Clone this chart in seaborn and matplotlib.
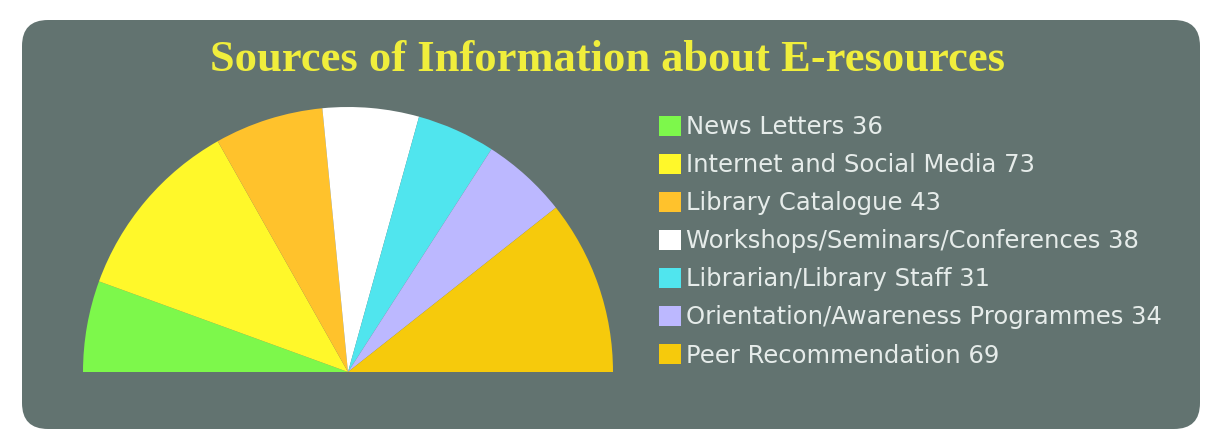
import matplotlib
matplotlib.use("Agg")
import matplotlib.pyplot as plt
import seaborn as sns
from matplotlib.patches import FancyBboxPatch, Patch

# data
sources = ["News Letters", "Internet and Social Media", "Library Catalogue",
           "Workshops/Seminars/Conferences", "Librarian/Library Staff",
           "Orientation/Awareness Programmes", "Peer Recommendation"]
counts = [36, 73, 43, 38, 31, 34, 69]
colors = ["#7df84b", "#fff82a", "#ffc22c", "#ffffff", "#50e5ee", "#bcb8ff", "#f6ca0c"]
title = "Sources of Information about E-resources"

sns.set_theme(style="white")
plt.rcParams["font.family"] = ["DejaVu Sans"]

W, H = 1206, 432
fig = plt.figure(figsize=(W / 100, H / 100), dpi=100)
fig.patch.set_facecolor("white")

# background panel in pixel units
bg = fig.add_axes([0, 0, 1, 1])
bg.set_xlim(0, W)
bg.set_ylim(0, H)
bg.axis("off")
bg.add_patch(FancyBboxPatch((22, 3), 1178, 409,
                            boxstyle="round,pad=0,rounding_size=26",
                            fc="#627370", ec="none"))
bg.text(608, 361, title, ha="center", va="baseline", color="#f0ee3c",
        fontsize=32, fontweight="bold", family="Liberation Serif")

# half pie: add an invisible wedge equal to the total
cx, cy, r = 348, 60, 265
ax = fig.add_axes([(cx - r) / W, (cy - r) / H, 2 * r / W, 2 * r / H])
total = sum(counts)
wedges, _ = ax.pie(counts + [total], colors=colors + ["none"],
                   startangle=180, counterclock=False,
                   wedgeprops=dict(linewidth=0))
ax.set_xlim(-1, 1)
ax.set_ylim(-1, 1)
ax.axis("off")

handles = [Patch(fc=c, ec="none") for c in colors]
labels = [f"{s} {v}" for s, v in zip(sources, counts)]
fig.legend(handles, labels, loc="upper left",
           bbox_to_anchor=(659 / W, 1 - 115 / H), frameon=False,
           fontsize=17.5, labelcolor="#e6ecea", handlelength=0.9,
           handleheight=0.9, handletextpad=0.2, labelspacing=0.58,
           borderpad=0, borderaxespad=0)

fig.savefig("out.png", dpi=100)
